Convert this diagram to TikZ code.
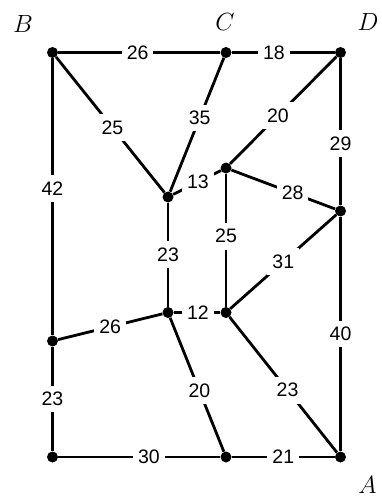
\documentclass[tikz,border=0pt]{standalone}
\usepackage{fontspec}
\setmainfont{Liberation Sans}
\begin{document}
\begin{tikzpicture}[x=1pt,y=-1pt,
  vtx/.style={circle,fill=black,inner sep=0pt,minimum size=11pt},
  edge/.style={line width=2.8pt},
  wlabel/.style={fill=white,inner xsep=5pt,inner ysep=6.5pt,font=\fontsize{19.5}{21}\selectfont},
  corner/.style={font=\fontsize{31}{36}\selectfont,inner sep=0pt}]
\useasboundingbox (0,0) rectangle (381,497);
\node[vtx] (B) at (52.5,52.5) {};
\node[vtx] (C) at (226,52.5) {};
\node[vtx] (D) at (340.5,52.5) {};
\node[vtx] (P) at (168,197) {};
\node[vtx] (Q) at (226,168) {};
\node[vtx] (R) at (340.5,211) {};
\node[vtx] (S) at (168,312.5) {};
\node[vtx] (T) at (226,312.5) {};
\node[vtx] (L) at (52.5,341) {};
\node[vtx] (BL) at (52.5,457) {};
\node[vtx] (BM) at (226,457) {};
\node[vtx] (A) at (340.5,457) {};
\node[corner] (lB) at (23,24) {$B$};
\node[corner] (lC) at (225,22) {$C$};
\node[corner] (lD) at (368,22) {$D$};
\node[corner] (lA) at (367.5,485) {$A$};
\draw[edge] (B) -- node[wlabel,pos=0.49] {26} (C);
\draw[edge] (C) -- node[wlabel,pos=0.41] {18} (D);
\draw[edge] (B) -- node[wlabel,pos=0.52] {25} (P);
\draw[edge] (C) -- node[wlabel,pos=0.45] {35} (P);
\draw[edge] (D) -- node[wlabel,pos=0.55] {20} (Q);
\draw[edge] (B) -- node[wlabel,pos=0.47] {42} (L);
\draw[edge] (D) -- node[wlabel,pos=0.58] {29} (R);
\draw[edge] (P) -- node[wlabel,pos=0.52] {13} (Q);
\draw[edge] (Q) -- node[wlabel,pos=0.59] {28} (R);
\draw[edge] (P) -- node[wlabel,pos=0.5] {23} (S);
\draw[edge] (Q) -- node[wlabel,pos=0.47] {25} (T);
\draw[edge] (T) -- node[wlabel,pos=0.5] {31} (R);
\draw[edge] (S) -- node[wlabel,pos=0.52] {12} (T);
\draw[edge] (L) -- node[wlabel,pos=0.5] {26} (S);
\draw[edge] (S) -- node[wlabel,pos=0.545] {20} (BM);
\draw[edge] (T) -- node[wlabel,pos=0.54] {23} (A);
\draw[edge] (L) -- node[wlabel,pos=0.5] {23} (BL);
\draw[edge] (R) -- node[wlabel,pos=0.5] {40} (A);
\draw[edge] (BL) -- node[wlabel,pos=0.56] {30} (BM);
\draw[edge] (BM) -- node[wlabel,pos=0.5] {21} (A);
\end{tikzpicture}
\end{document}
